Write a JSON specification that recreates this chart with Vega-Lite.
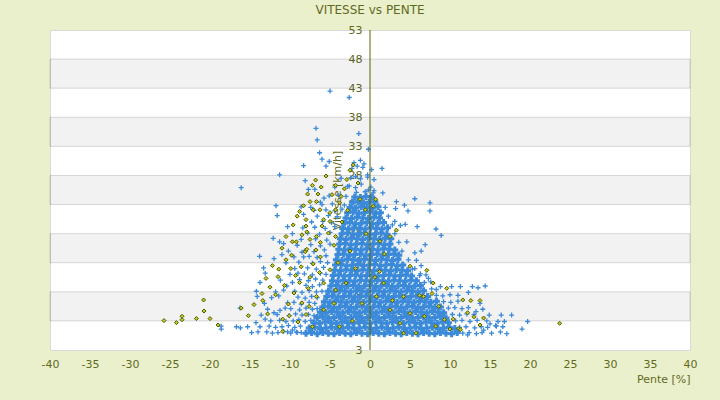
{
"$schema": "https://vega.github.io/schema/vega-lite/v6.json",
"width": 640, "height": 320,
"autosize": {"type": "none"},
"padding": {"left": 50, "top": 30, "right": 30, "bottom": 50},
"background": "#ebf0cc",
"title": {"text": "VITESSE vs PENTE", "font": "DejaVu Sans", "fontSize": 12, "fontWeight": "normal", "color": "#5f6a1e", "offset": 7, "anchor": "middle"},
"config": {"view": {"stroke": "#d9d9d9", "fill": "#ffffff"}},
"datasets": {
"bands": [{"v":3,"v2":8},{"v":13,"v2":18},{"v":23,"v2":28},{"v":33,"v2":38},{"v":43,"v2":48}],
"core": [
{"p":-8,"v":0.9},{"p":-7.3,"v":1},{"p":-6.6,"v":0.8},{"p":-5.9,"v":1},{"p":-5.2,"v":0.9},{"p":-4.5,"v":0.8},{"p":-3.8,"v":1},{"p":-3.1,"v":0.9},{"p":-2.4,"v":0.8},{"p":-1.7,"v":1},{"p":-1,"v":0.9},{"p":-0.3,"v":0.8},{"p":0.4,"v":1},{"p":1.1,"v":0.9},{"p":1.8,"v":0.8},{"p":2.5,"v":1},{"p":3.2,"v":0.9},{"p":3.9,"v":0.8},{"p":4.6,"v":1},{"p":5.3,"v":0.9},{"p":6,"v":0.8},{"p":6.7,"v":1},{"p":7.4,"v":0.9},{"p":8.1,"v":0.8},{"p":8.8,"v":1},{"p":9.5,"v":0.9},{"p":10.2,"v":0.8},{"p":10.9,"v":1},
{"p":-7.6,"v":1.8},{"p":-6.9,"v":1.9},{"p":-6.2,"v":1.7},{"p":-5.5,"v":1.8},{"p":-4.8,"v":1.9},{"p":-4.1,"v":1.7},{"p":-3.4,"v":1.8},{"p":-2.7,"v":1.9},{"p":-2,"v":1.7},{"p":-1.3,"v":1.8},{"p":-0.6,"v":1.9},{"p":0.1,"v":1.7},{"p":0.8,"v":1.8},{"p":1.5,"v":1.9},{"p":2.2,"v":1.7},{"p":2.9,"v":1.8},{"p":3.6,"v":1.9},{"p":4.3,"v":1.7},{"p":5,"v":1.8},{"p":5.7,"v":1.9},{"p":6.4,"v":1.7},{"p":7.1,"v":1.8},{"p":7.8,"v":1.9},{"p":8.5,"v":1.7},{"p":9.2,"v":1.8},{"p":9.9,"v":1.9},{"p":10.6,"v":1.7},
{"p":-7,"v":2.7},{"p":-6.3,"v":2.6},{"p":-5.6,"v":2.8},{"p":-4.9,"v":2.7},{"p":-4.2,"v":2.6},{"p":-3.5,"v":2.8},{"p":-2.8,"v":2.7},{"p":-2.1,"v":2.6},{"p":-1.4,"v":2.8},{"p":-0.7,"v":2.7},{"p":0,"v":2.6},{"p":0.7,"v":2.8},{"p":1.4,"v":2.7},{"p":2.1,"v":2.6},{"p":2.8,"v":2.8},{"p":3.5,"v":2.7},{"p":4.2,"v":2.6},{"p":4.9,"v":2.8},{"p":5.6,"v":2.7},{"p":6.3,"v":2.6},{"p":7,"v":2.8},{"p":7.7,"v":2.7},{"p":8.4,"v":2.6},{"p":9.1,"v":2.8},{"p":9.8,"v":2.7},
{"p":-6.6,"v":3.6},{"p":-5.9,"v":3.7},{"p":-5.2,"v":3.5},{"p":-4.5,"v":3.6},{"p":-3.8,"v":3.7},{"p":-3.1,"v":3.5},{"p":-2.4,"v":3.6},{"p":-1.7,"v":3.7},{"p":-1,"v":3.5},{"p":-0.3,"v":3.6},{"p":0.4,"v":3.7},{"p":1.1,"v":3.5},{"p":1.8,"v":3.6},{"p":2.5,"v":3.7},{"p":3.2,"v":3.5},{"p":3.9,"v":3.6},{"p":4.6,"v":3.7},{"p":5.3,"v":3.5},{"p":6,"v":3.6},{"p":6.7,"v":3.7},{"p":7.4,"v":3.5},{"p":8.1,"v":3.6},{"p":8.8,"v":3.7},{"p":9.5,"v":3.5},
{"p":-6.2,"v":4.5},{"p":-5.5,"v":4.4},{"p":-4.8,"v":4.6},{"p":-4.1,"v":4.5},{"p":-3.4,"v":4.4},{"p":-2.7,"v":4.6},{"p":-2,"v":4.5},{"p":-1.3,"v":4.4},{"p":-0.6,"v":4.6},{"p":0.1,"v":4.5},{"p":0.8,"v":4.4},{"p":1.5,"v":4.6},{"p":2.2,"v":4.5},{"p":2.9,"v":4.4},{"p":3.6,"v":4.6},{"p":4.3,"v":4.5},{"p":5,"v":4.4},{"p":5.7,"v":4.6},{"p":6.4,"v":4.5},{"p":7.1,"v":4.4},{"p":7.8,"v":4.6},{"p":8.5,"v":4.5},{"p":9.2,"v":4.4},
{"p":-5.9,"v":5.4},{"p":-5.2,"v":5.5},{"p":-4.5,"v":5.3},{"p":-3.8,"v":5.4},{"p":-3.1,"v":5.5},{"p":-2.4,"v":5.3},{"p":-1.7,"v":5.4},{"p":-1,"v":5.5},{"p":-0.3,"v":5.3},{"p":0.4,"v":5.4},{"p":1.1,"v":5.5},{"p":1.8,"v":5.3},{"p":2.5,"v":5.4},{"p":3.2,"v":5.5},{"p":3.9,"v":5.3},{"p":4.6,"v":5.4},{"p":5.3,"v":5.5},{"p":6,"v":5.3},{"p":6.7,"v":5.4},{"p":7.4,"v":5.5},{"p":8.1,"v":5.3},{"p":8.8,"v":5.4},
{"p":-5.7,"v":6.3},{"p":-5,"v":6.2},{"p":-4.3,"v":6.4},{"p":-3.6,"v":6.3},{"p":-2.9,"v":6.2},{"p":-2.2,"v":6.4},{"p":-1.5,"v":6.3},{"p":-0.8,"v":6.2},{"p":-0.1,"v":6.4},{"p":0.6,"v":6.3},{"p":1.3,"v":6.2},{"p":2,"v":6.4},{"p":2.7,"v":6.3},{"p":3.4,"v":6.2},{"p":4.1,"v":6.4},{"p":4.8,"v":6.3},{"p":5.5,"v":6.2},{"p":6.2,"v":6.4},{"p":6.9,"v":6.3},{"p":7.6,"v":6.2},{"p":8.3,"v":6.4},
{"p":-5.4,"v":7.2},{"p":-4.7,"v":7.3},{"p":-4,"v":7.1},{"p":-3.3,"v":7.2},{"p":-2.6,"v":7.3},{"p":-1.9,"v":7.1},{"p":-1.2,"v":7.2},{"p":-0.5,"v":7.3},{"p":0.2,"v":7.1},{"p":0.9,"v":7.2},{"p":1.6,"v":7.3},{"p":2.3,"v":7.1},{"p":3,"v":7.2},{"p":3.7,"v":7.3},{"p":4.4,"v":7.1},{"p":5.1,"v":7.2},{"p":5.8,"v":7.3},{"p":6.5,"v":7.1},{"p":7.2,"v":7.2},
{"p":-5.2,"v":8.1},{"p":-4.5,"v":8},{"p":-3.8,"v":8.2},{"p":-3.1,"v":8.1},{"p":-2.4,"v":8},{"p":-1.7,"v":8.2},{"p":-1,"v":8.1},{"p":-0.3,"v":8},{"p":0.4,"v":8.2},{"p":1.1,"v":8.1},{"p":1.8,"v":8},{"p":2.5,"v":8.2},{"p":3.2,"v":8.1},{"p":3.9,"v":8},{"p":4.6,"v":8.2},{"p":5.3,"v":8.1},{"p":6,"v":8},{"p":6.7,"v":8.2},
{"p":-4.9,"v":9},{"p":-4.2,"v":9.1},{"p":-3.5,"v":8.9},{"p":-2.8,"v":9},{"p":-2.1,"v":9.1},{"p":-1.4,"v":8.9},{"p":-0.7,"v":9},{"p":0,"v":9.1},{"p":0.7,"v":8.9},{"p":1.4,"v":9},{"p":2.1,"v":9.1},{"p":2.8,"v":8.9},{"p":3.5,"v":9},{"p":4.2,"v":9.1},{"p":4.9,"v":8.9},{"p":5.6,"v":9},{"p":6.3,"v":9.1},
{"p":-4.7,"v":9.9},{"p":-4,"v":9.8},{"p":-3.3,"v":10},{"p":-2.6,"v":9.9},{"p":-1.9,"v":9.8},{"p":-1.2,"v":10},{"p":-0.5,"v":9.9},{"p":0.2,"v":9.8},{"p":0.9,"v":10},{"p":1.6,"v":9.9},{"p":2.3,"v":9.8},{"p":3,"v":10},{"p":3.7,"v":9.9},{"p":4.4,"v":9.8},{"p":5.1,"v":10},{"p":5.8,"v":9.9},
{"p":-4.6,"v":10.8},{"p":-3.9,"v":10.9},{"p":-3.2,"v":10.7},{"p":-2.5,"v":10.8},{"p":-1.8,"v":10.9},{"p":-1.1,"v":10.7},{"p":-0.4,"v":10.8},{"p":0.3,"v":10.9},{"p":1,"v":10.7},{"p":1.7,"v":10.8},{"p":2.4,"v":10.9},{"p":3.1,"v":10.7},{"p":3.8,"v":10.8},{"p":4.5,"v":10.9},{"p":5.2,"v":10.7},
{"p":-4.4,"v":11.7},{"p":-3.7,"v":11.6},{"p":-3,"v":11.8},{"p":-2.3,"v":11.7},{"p":-1.6,"v":11.6},{"p":-0.9,"v":11.8},{"p":-0.2,"v":11.7},{"p":0.5,"v":11.6},{"p":1.2,"v":11.8},{"p":1.9,"v":11.7},{"p":2.6,"v":11.6},{"p":3.3,"v":11.8},{"p":4,"v":11.7},{"p":4.7,"v":11.6},
{"p":-4.3,"v":12.6},{"p":-3.6,"v":12.7},{"p":-2.9,"v":12.5},{"p":-2.2,"v":12.6},{"p":-1.5,"v":12.7},{"p":-0.8,"v":12.5},{"p":-0.1,"v":12.6},{"p":0.6,"v":12.7},{"p":1.3,"v":12.5},{"p":2,"v":12.6},{"p":2.7,"v":12.7},{"p":3.4,"v":12.5},{"p":4.1,"v":12.6},
{"p":-4.2,"v":13.5},{"p":-3.5,"v":13.4},{"p":-2.8,"v":13.6},{"p":-2.1,"v":13.5},{"p":-1.4,"v":13.4},{"p":-0.7,"v":13.6},{"p":0,"v":13.5},{"p":0.7,"v":13.4},{"p":1.4,"v":13.6},{"p":2.1,"v":13.5},{"p":2.8,"v":13.4},{"p":3.5,"v":13.6},
{"p":-4,"v":14.4},{"p":-3.3,"v":14.5},{"p":-2.6,"v":14.3},{"p":-1.9,"v":14.4},{"p":-1.2,"v":14.5},{"p":-0.5,"v":14.3},{"p":0.2,"v":14.4},{"p":0.9,"v":14.5},{"p":1.6,"v":14.3},{"p":2.3,"v":14.4},{"p":3,"v":14.5},{"p":3.6,"v":14.3},
{"p":-3.9,"v":15.3},{"p":-3.2,"v":15.2},{"p":-2.5,"v":15.4},{"p":-1.8,"v":15.3},{"p":-1.1,"v":15.2},{"p":-0.4,"v":15.4},{"p":0.3,"v":15.3},{"p":1,"v":15.2},{"p":1.7,"v":15.4},{"p":2.4,"v":15.3},{"p":3.1,"v":15.2},
{"p":-3.8,"v":16.2},{"p":-3.1,"v":16.3},{"p":-2.4,"v":16.1},{"p":-1.7,"v":16.2},{"p":-1,"v":16.3},{"p":-0.3,"v":16.1},{"p":0.4,"v":16.2},{"p":1.1,"v":16.3},{"p":1.8,"v":16.1},{"p":2.5,"v":16.2},
{"p":-3.7,"v":17.1},{"p":-3,"v":17},{"p":-2.3,"v":17.2},{"p":-1.6,"v":17.1},{"p":-0.9,"v":17},{"p":-0.2,"v":17.2},{"p":0.5,"v":17.1},{"p":1.2,"v":17},{"p":1.9,"v":17.2},{"p":2.6,"v":17.1},
{"p":-3.5,"v":18},{"p":-2.8,"v":18.1},{"p":-2.1,"v":17.9},{"p":-1.4,"v":18},{"p":-0.7,"v":18.1},{"p":0,"v":17.9},{"p":0.7,"v":18},{"p":1.4,"v":18.1},{"p":2.1,"v":17.9},
{"p":-3.4,"v":18.9},{"p":-2.7,"v":18.8},{"p":-2,"v":19},{"p":-1.3,"v":18.9},{"p":-0.6,"v":18.8},{"p":0.1,"v":19},{"p":0.8,"v":18.9},{"p":1.5,"v":18.8},{"p":2.2,"v":19},
{"p":-3.2,"v":19.8},{"p":-2.5,"v":19.9},{"p":-1.8,"v":19.7},{"p":-1.1,"v":19.8},{"p":-0.4,"v":19.9},{"p":0.3,"v":19.7},{"p":1,"v":19.8},{"p":1.7,"v":19.9},
{"p":-3,"v":20.7},{"p":-2.3,"v":20.6},{"p":-1.6,"v":20.8},{"p":-0.9,"v":20.7},{"p":-0.2,"v":20.6},{"p":0.5,"v":20.8},{"p":1.2,"v":20.7},
{"p":-2.8,"v":21.6},{"p":-2.1,"v":21.7},{"p":-1.4,"v":21.5},{"p":-0.7,"v":21.6},{"p":0,"v":21.7},{"p":0.7,"v":21.5},{"p":1.3,"v":21.6},
{"p":-2.5,"v":22.5},{"p":-1.8,"v":22.4},{"p":-1.1,"v":22.6},{"p":-0.4,"v":22.5},{"p":0.3,"v":22.4},{"p":1,"v":22.6},
{"p":-2.2,"v":23.4},{"p":-1.5,"v":23.5},{"p":-0.8,"v":23.3},{"p":-0.1,"v":23.4},{"p":0.6,"v":23.5},
{"p":-1.9,"v":24.3},{"p":-1.2,"v":24.2},{"p":-0.5,"v":24.4},{"p":0.2,"v":24.3}
],
"blue": [
{"p":11.6,"v":0.9},{"p":12.4,"v":1},{"p":13.3,"v":0.8},{"p":14,"v":1},{"p":15.2,"v":0.9},{"p":16.3,"v":1.1},{"p":17.1,"v":0.8},
{"p":11.2,"v":1.9},{"p":12,"v":2},{"p":13.1,"v":1.8},{"p":13.9,"v":2},{"p":14.7,"v":1.9},{"p":15.8,"v":2.1},
{"p":10.7,"v":3},{"p":11.5,"v":3.1},{"p":12.5,"v":2.9},{"p":13.4,"v":3.1},{"p":14.6,"v":3},
{"p":10.3,"v":4.1},{"p":11.2,"v":4},{"p":12.1,"v":4.2},{"p":13,"v":4.1},
{"p":9.8,"v":5.2},{"p":10.6,"v":5.3},{"p":11.5,"v":5.1},{"p":12.3,"v":5.3},
{"p":9.2,"v":6.3},{"p":10.1,"v":6.2},{"p":11,"v":6.4},
{"p":8.3,"v":7.4},{"p":9.1,"v":7.3},{"p":10,"v":7.5},
{"p":7.7,"v":8.5},{"p":8.3,"v":8.4},{"p":6.8,"v":9.6},{"p":7.6,"v":9.7},{"p":6.2,"v":10.8},{"p":7,"v":10.9},{"p":5.6,"v":12},{"p":4.8,"v":13.5},{"p":5.8,"v":13.4},{"p":4,"v":15},{"p":3.6,"v":16.5},{"p":4.6,"v":16.6},{"p":3.1,"v":18},{"p":2.8,"v":19.5},{"p":3.8,"v":19.4},{"p":2.3,"v":21},{"p":1.9,"v":22.5},{"p":3.2,"v":22.3},
{"p":-14.8,"v":1},{"p":-14,"v":1.1},{"p":-12.2,"v":0.9},{"p":-11.5,"v":1},{"p":-10.8,"v":1.2},{"p":-9.9,"v":0.9},{"p":-9.2,"v":1.1},{"p":-8.6,"v":1},
{"p":-15.3,"v":2},{"p":-12.6,"v":2.1},{"p":-11.8,"v":1.9},{"p":-11,"v":2},{"p":-10.2,"v":2.2},{"p":-9.4,"v":1.9},{"p":-8.7,"v":2.1},
{"p":-12.4,"v":3},{"p":-11.3,"v":3.1},{"p":-10.5,"v":2.9},{"p":-9.6,"v":3},{"p":-8.9,"v":3.2},{"p":-8.1,"v":2.9},{"p":-7.4,"v":3.1},
{"p":-13.6,"v":4},{"p":-11.6,"v":4.1},{"p":-10.1,"v":3.9},{"p":-9.3,"v":4.2},{"p":-8.5,"v":4},{"p":-7.7,"v":4.1},{"p":-7,"v":3.9},
{"p":-12.8,"v":5},{"p":-9.9,"v":5.1},{"p":-8.8,"v":4.9},{"p":-8,"v":5.2},{"p":-7.2,"v":5},{"p":-6.6,"v":5.1},
{"p":-13.2,"v":6},{"p":-10.3,"v":6.1},{"p":-8.6,"v":5.9},{"p":-7.6,"v":6.2},{"p":-6.9,"v":6},
{"p":-12.3,"v":7},{"p":-9,"v":7.1},{"p":-8.1,"v":6.9},{"p":-7.3,"v":7.2},{"p":-6.6,"v":7},
{"p":-11.8,"v":8},{"p":-9.4,"v":8.1},{"p":-8.5,"v":7.9},{"p":-7.6,"v":8.2},{"p":-6.7,"v":8},{"p":-6,"v":8.1},
{"p":-10.4,"v":9},{"p":-8,"v":9.1},{"p":-7.2,"v":8.9},{"p":-6.3,"v":9.2},
{"p":-11.2,"v":10},{"p":-8.8,"v":10.1},{"p":-7.7,"v":9.9},{"p":-6.8,"v":10.2},{"p":-5.9,"v":10},
{"p":-10,"v":11},{"p":-8.2,"v":11.1},{"p":-7.2,"v":10.9},{"p":-6.2,"v":11.2},{"p":-5.5,"v":11},
{"p":-9.4,"v":12},{"p":-7.8,"v":12.1},{"p":-6.7,"v":11.9},{"p":-5.8,"v":12.2},
{"p":-10.5,"v":13},{"p":-8.9,"v":13.1},{"p":-7.2,"v":12.9},{"p":-6.2,"v":13.2},{"p":-5.3,"v":13},
{"p":-9.5,"v":14},{"p":-7.6,"v":14.1},{"p":-6.6,"v":13.9},{"p":-5.5,"v":14.2},
{"p":-10.2,"v":15},{"p":-8.1,"v":15.1},{"p":-7,"v":14.9},{"p":-5.7,"v":15.2},
{"p":-9.1,"v":16},{"p":-7.4,"v":16.1},{"p":-6.2,"v":15.9},{"p":-5,"v":16.2},
{"p":-8.6,"v":17},{"p":-6.8,"v":17.1},{"p":-5.4,"v":16.9},
{"p":-9.7,"v":18},{"p":-7.8,"v":18.1},{"p":-6.3,"v":17.9},{"p":-5,"v":18.2},
{"p":-8.4,"v":19},{"p":-6.9,"v":19.1},{"p":-5.6,"v":18.9},{"p":-4.4,"v":19.2},
{"p":-7.3,"v":20},{"p":-5.9,"v":20.1},{"p":-4.8,"v":19.9},
{"p":-6.6,"v":21},{"p":-5.2,"v":21.1},{"p":-4.1,"v":20.9},
{"p":-7,"v":22},{"p":-5.5,"v":22.1},{"p":-4.4,"v":21.9},{"p":-3.5,"v":22.2},
{"p":-6,"v":23},{"p":-4.7,"v":23.1},{"p":-3.2,"v":22.9},
{"p":-5.1,"v":24.5},{"p":-3.9,"v":24.6},{"p":-3,"v":24.4},
{"p":-4.4,"v":26},{"p":-2.8,"v":26.1},{"p":-1.8,"v":25.9},
{"p":-3.6,"v":27.5},{"p":-2.4,"v":27.6},{"p":-1.2,"v":27.4},{"p":-0.3,"v":27.7},
{"p":-0.6,"v":25.2},{"p":0.1,"v":26},{"p":-1.1,"v":26.5},{"p":0.5,"v":27.3},{"p":-0.3,"v":28.1},{"p":-1.8,"v":27.8},{"p":0.2,"v":29},{"p":-0.9,"v":29.4},{"p":-2.6,"v":26.2},{"p":-1.7,"v":25.1},{"p":-0.2,"v":25.5},{"p":0.5,"v":25.4},
{"p":-5,"v":42.5},{"p":-2.6,"v":41.4},{"p":-6.75,"v":36.1},{"p":-1.4,"v":35.2},{"p":-6.6,"v":34.1},{"p":-6.3,"v":31.9},{"p":-6,"v":30.8},{"p":-0.2,"v":32.5},{"p":-0.75,"v":30},{"p":1.5,"v":29.2},{"p":-8.3,"v":29.7},{"p":-5.5,"v":29.6},{"p":-5.1,"v":30.4},{"p":-2,"v":30.2},{"p":-1.6,"v":29.6},{"p":-1.2,"v":30.6},{"p":-2.25,"v":29.2},{"p":-8.1,"v":27.1},{"p":-6.9,"v":25.6},{"p":-7.7,"v":25.6},{"p":-7.4,"v":22.5},{"p":-8.6,"v":22.6},{"p":-8.3,"v":21.3},{"p":-6.2,"v":23.4},{"p":-5.75,"v":24.1},{"p":0.4,"v":25},{"p":1.6,"v":25},{"p":5.6,"v":24},{"p":3.3,"v":23.5},{"p":4.3,"v":22.9},{"p":4.75,"v":21.9},{"p":7.5,"v":23.3},{"p":7.5,"v":21.9},{"p":8.25,"v":18.8},{"p":5.9,"v":19.2},{"p":4.4,"v":19.6},{"p":3.1,"v":20.1},
{"p":-11.3,"v":28.1},{"p":-16.1,"v":25.9},{"p":-11.75,"v":22.8},{"p":-11.6,"v":21.1},{"p":-10.3,"v":19.2},{"p":-12.1,"v":17.2},{"p":-11.3,"v":16.6},{"p":-10.8,"v":16.3},{"p":-13.8,"v":14.1},{"p":-12,"v":13.7},{"p":-11,"v":14.4},{"p":-13.3,"v":12.1},{"p":-13.1,"v":11.2},{"p":-13.75,"v":9.6},{"p":-14.2,"v":8.1},{"p":-14.1,"v":7.2},{"p":-11.4,"v":7.3},{"p":-10.8,"v":8.3},{"p":-9.7,"v":9.6},{"p":-9,"v":11.2},{"p":-8.3,"v":14},{"p":-8.5,"v":14.8},{"p":-16.25,"v":5.2},{"p":-13.1,"v":3.3},{"p":-14.25,"v":2.7},{"p":-13.75,"v":2},{"p":-16.7,"v":2},{"p":-16.2,"v":1.8},{"p":-18.6,"v":2.1},{"p":-18.6,"v":1.6},{"p":-12.9,"v":1.1},{"p":-12,"v":4.4},{"p":-11.25,"v":4.8},{"p":-10.6,"v":5.2},{"p":-9.5,"v":6.2},{"p":-10.3,"v":1.1},{"p":-9.7,"v":1.4},{"p":-9.1,"v":1},
{"p":8.9,"v":17.7},{"p":6.9,"v":16.1},{"p":6.4,"v":15},{"p":5.6,"v":14.7},{"p":6.4,"v":12.5},{"p":5.3,"v":11.9},{"p":6.3,"v":11.1},{"p":7.3,"v":10.3},{"p":8.8,"v":8.9},{"p":10.2,"v":8.9},{"p":11.3,"v":8.9},{"p":11,"v":7.4},{"p":13.75,"v":6},{"p":14.1,"v":5},{"p":13.25,"v":4.6},{"p":14.9,"v":4},{"p":16.4,"v":4},{"p":17.7,"v":4},{"p":16,"v":2.9},{"p":16.8,"v":2.9},{"p":19.7,"v":2.9},{"p":19,"v":1.6},{"p":16.6,"v":2},{"p":15.7,"v":2.2},{"p":15,"v":2.5},{"p":14.2,"v":1.4},{"p":12.2,"v":0.6},{"p":12.8,"v":8.9},{"p":13.5,"v":8.7},{"p":14.4,"v":9},{"p":12.3,"v":7.9}
],
"olive": [
{"p":-25.75,"v":3.05},{"p":-24.2,"v":2.7},{"p":-23.5,"v":3.8},{"p":-23.5,"v":3.2},{"p":-21.7,"v":3.4},{"p":-20.8,"v":6.6},{"p":-20.75,"v":4.7},{"p":-20,"v":3.4},{"p":-19,"v":2.3},{"p":-16.1,"v":5.2},{"p":-15.2,"v":3.9},{"p":-13.5,"v":7.7},{"p":-13.4,"v":6.5},{"p":-12.2,"v":12.5},{"p":-11.4,"v":11.9},{"p":-11.5,"v":10.6},{"p":-10.7,"v":9.1},{"p":-9.9,"v":12},{"p":-9.3,"v":10.8},{"p":-9.8,"v":14.3},{"p":-9.7,"v":16.6},{"p":-9.2,"v":16.6},{"p":-8.5,"v":17.8},{"p":-7.9,"v":18.3},{"p":-8.1,"v":14.9},{"p":-7.9,"v":15.3},{"p":-6.75,"v":15.2},{"p":-7.1,"v":12.8},{"p":-6.2,"v":14},{"p":-7.7,"v":8.6},{"p":-8.5,"v":6.1},{"p":-10.9,"v":3.3},{"p":-10.1,"v":3.9},{"p":-8,"v":4.1},{"p":-7.2,"v":2},{"p":-10.9,"v":1.2},{"p":-7.5,"v":23.5},{"p":-6.7,"v":23.5},{"p":-8,"v":20.4},{"p":-7.2,"v":26.3},{"p":-5.5,"v":27.9},{"p":-6.25,"v":22.1},{"p":-6,"v":19.3},{"p":-6.2,"v":16.5},{"p":-5,"v":20.1},{"p":-4.3,"v":17.5},{"p":-4.5,"v":16},{"p":-5,"v":11.8},{"p":-4.3,"v":8.3},{"p":-5.8,"v":9.5},{"p":-6.7,"v":7.2},{"p":-5.8,"v":4.9},
{"p":-2.1,"v":29.8},{"p":-2.5,"v":28.9},{"p":-2.9,"v":27.3},{"p":-3.2,"v":25.7},{"p":-3.6,"v":24.4},{"p":-4.3,"v":26.3},{"p":-4.75,"v":24.7},{"p":-6.1,"v":26},{"p":-6.5,"v":24.8},{"p":-7.1,"v":22.1},{"p":-8,"v":19.3},{"p":-5.8,"v":20.4},{"p":-4.3,"v":22.1},{"p":-3.8,"v":23.3},{"p":-1.5,"v":26.7},{"p":-1.25,"v":23.9},{"p":-0.6,"v":22.1},{"p":0.4,"v":22.7},{"p":0.7,"v":23.9},{"p":-5.2,"v":18.1},{"p":-6.7,"v":17.5},{"p":-5,"v":21.6},{"p":-7.5,"v":17},
{"p":7.1,"v":11.7},{"p":7.9,"v":9.5},{"p":9.6,"v":8.6},{"p":11.6,"v":6.6},{"p":12.6,"v":6.5},{"p":13.75,"v":6.5},{"p":23.7,"v":2.6},{"p":6.2,"v":7.4},{"p":6.7,"v":7.2},{"p":7.75,"v":7.7},{"p":11.1,"v":1.7},{"p":11.3,"v":1.5},{"p":13.75,"v":2.3},{"p":13,"v":3.7},{"p":10.4,"v":3.3},{"p":10,"v":1.6},{"p":5.75,"v":0.9},{"p":4.2,"v":0.9},{"p":5,"v":12.4},{"p":2.5,"v":17.5},{"p":3.3,"v":18.6},{"p":1.25,"v":16.7},{"p":1.2,"v":11.5},{"p":1.7,"v":9.5},{"p":0.8,"v":7.2},{"p":2.5,"v":4.9},{"p":3.75,"v":2.6},{"p":4.2,"v":7.2},{"p":5,"v":4.3},
{"p":-2.5,"v":15},{"p":-1.8,"v":12},{"p":-3,"v":9.5},{"p":-1,"v":6},{"p":-2.2,"v":3},{"p":0.6,"v":10.5},{"p":1.8,"v":14.5},{"p":-0.5,"v":18},{"p":2.8,"v":6.5},{"p":-3.5,"v":20},{"p":-4,"v":13},{"p":-2.8,"v":22},{"p":-4.5,"v":6},{"p":-3.8,"v":2},
{"p":-12.5,"v":8.8},{"p":-11.8,"v":7.5},{"p":-9.5,"v":7.8},{"p":-10.2,"v":5.9},{"p":-9,"v":2.8},{"p":-8.8,"v":9.6},{"p":-12.8,"v":4.2},{"p":-14.5,"v":5.8},{"p":-13,"v":10.3},{"p":-10.5,"v":13.5},{"p":-11,"v":15.5},{"p":-8.6,"v":12.3},{"p":-7.5,"v":10.5},{"p":-6.3,"v":11.3},{"p":-7.6,"v":5.5},{"p":-9.6,"v":19.5},{"p":-8.8,"v":21.8},{"p":-8.3,"v":22.8},{"p":-9.1,"v":21},{"p":-7.8,"v":24.8},{"p":-6.8,"v":27.2},{"p":-10.5,"v":17.5},
{"p":8.6,"v":5.5},{"p":9.3,"v":3.2},{"p":12.2,"v":4.4},{"p":14.2,"v":3.5},{"p":8.2,"v":2.1},{"p":6.8,"v":3.8}
]
},
"layer": [
 {"data": {"name": "bands"}, "mark": {"type": "rect", "fill": "#000000", "fillOpacity": 0.05, "stroke": "#000000", "strokeOpacity": 0.14, "strokeWidth": 1},
  "encoding": {
   "y": {"field": "v", "type": "quantitative",
     "scale": {"domain": [-2, 53], "nice": false, "zero": false},
     "axis": {"orient": "left", "offset": -320, "values": [-2,3,8,13,18,23,28,33,38,43,48,53], "tickCount": 100, "labelExpr": "datum.value < 0 ? '3' : '' + datum.value", "labelOverlap": false, "domain": false, "ticks": false, "tickSize": 0, "grid": false, "labelPadding": 8, "labelFont": "DejaVu Sans", "labelFontSize": 11, "labelColor": "#5f6a1e", "title": "Vitesse [km/h]", "titleFont": "DejaVu Sans", "titleFontSize": 11, "titleFontWeight": "normal", "titleColor": "#5f6a1e", "titlePadding": 6}},
   "y2": {"field": "v2"}}},
 {"data": {"name": "core"}, "mark": {"type": "point", "shape": "M-1,0H1M0,-1V1", "size": 49, "filled": false, "stroke": "#3b89d9", "strokeWidth": 3, "opacity": 1},
  "encoding": {
   "x": {"field": "p", "type": "quantitative",
     "scale": {"domain": [-40, 40], "nice": false, "zero": false},
     "axis": {"values": [-40,-35,-30,-25,-20,-15,-10,-5,0,5,10,15,20,25,30,35,40], "tickCount": 100, "labelExpr": "'' + datum.value", "labelFlush": false, "labelOverlap": false, "domain": false, "ticks": false, "grid": false, "labelPadding": 8, "labelFont": "DejaVu Sans", "labelFontSize": 11, "labelColor": "#5f6a1e", "title": "Pente [%]", "titleFont": "DejaVu Sans", "titleFontSize": 11, "titleFontWeight": "normal", "titleColor": "#5f6a1e", "titleAnchor": "end", "titlePadding": 4}},
   "y": {"field": "v", "type": "quantitative"}}},
 {"data": {"name": "blue"}, "mark": {"type": "point", "shape": "M-1,0H1M0,-1V1", "size": 25, "filled": false, "stroke": "#3b89d9", "strokeWidth": 1.3, "opacity": 1},
  "encoding": {"x": {"field": "p", "type": "quantitative"}, "y": {"field": "v", "type": "quantitative"}}},
 {"data": {"name": "olive"}, "mark": {"type": "point", "shape": "diamond", "size": 16, "filled": true, "fill": "#c3cc22", "stroke": "#4f5a00", "strokeWidth": 1, "opacity": 1},
  "encoding": {"x": {"field": "p", "type": "quantitative"}, "y": {"field": "v", "type": "quantitative"}}},
 {"data": {"values": [{}]}, "mark": {"type": "rule", "color": "#5a6400", "strokeWidth": 1},
  "encoding": {"x": {"datum": 0}}}
]
}
